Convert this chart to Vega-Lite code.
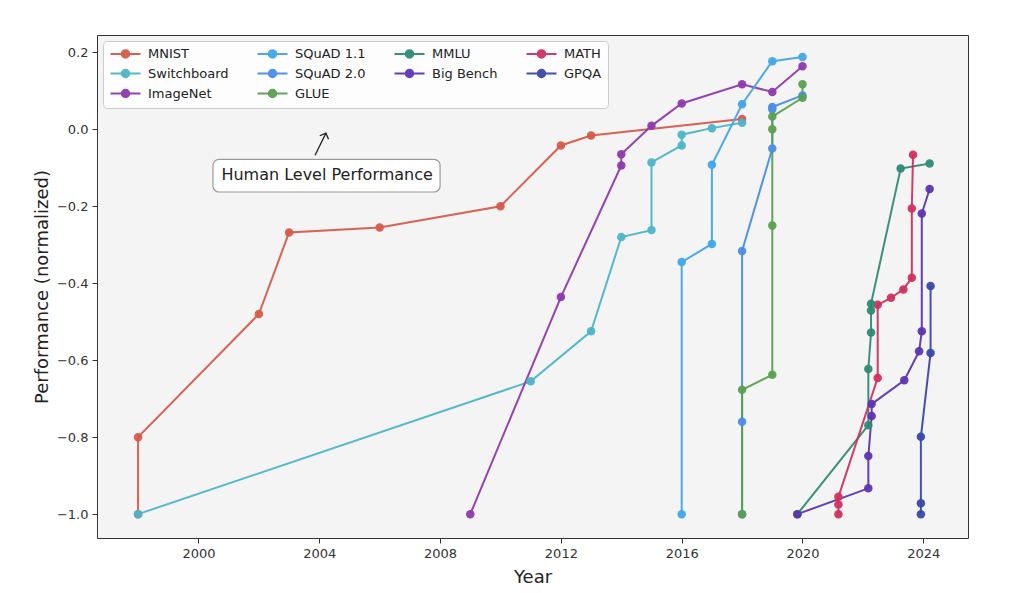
{
  "$schema": "https://vega.github.io/schema/vega-lite/v6.json",
  "autosize": {"type": "none"},
  "width": 871,
  "height": 503,
  "padding": {"left": 97, "top": 35, "right": 56, "bottom": 55},
  "background": "white",
  "config": {
    "font": "DejaVu Sans",
    "view": {"fill": "#f4f4f4", "stroke": "#333333", "strokeWidth": 1},
    "axis": {
      "grid": false, "domain": false, "tickColor": "#333333", "tickSize": 5, "tickWidth": 1,
      "labelColor": "#333333", "labelFontSize": 13, "labelFont": "DejaVu Sans", "labelPadding": 4,
      "titleFont": "DejaVu Sans", "titleFontSize": 18, "titleFontWeight": "normal", "titleColor": "#222222"
    }
  },
  "layer": [
    {
      "data": {"values": [
        {"series": "MNIST", "i": 0, "year": 1998, "value": -1.0},
        {"series": "MNIST", "i": 1, "year": 1998, "value": -0.8},
        {"series": "MNIST", "i": 2, "year": 2002, "value": -0.48},
        {"series": "MNIST", "i": 3, "year": 2003, "value": -0.268},
        {"series": "MNIST", "i": 4, "year": 2006, "value": -0.255},
        {"series": "MNIST", "i": 5, "year": 2010, "value": -0.2},
        {"series": "MNIST", "i": 6, "year": 2012, "value": -0.042},
        {"series": "MNIST", "i": 7, "year": 2013, "value": -0.016},
        {"series": "MNIST", "i": 8, "year": 2018, "value": 0.027},
        {"series": "Switchboard", "i": 0, "year": 1998, "value": -1.0},
        {"series": "Switchboard", "i": 1, "year": 2011, "value": -0.655},
        {"series": "Switchboard", "i": 2, "year": 2013, "value": -0.525},
        {"series": "Switchboard", "i": 3, "year": 2014, "value": -0.28},
        {"series": "Switchboard", "i": 4, "year": 2015, "value": -0.262},
        {"series": "Switchboard", "i": 5, "year": 2015, "value": -0.086},
        {"series": "Switchboard", "i": 6, "year": 2016, "value": -0.042},
        {"series": "Switchboard", "i": 7, "year": 2016, "value": -0.014},
        {"series": "Switchboard", "i": 8, "year": 2017, "value": 0.003},
        {"series": "Switchboard", "i": 9, "year": 2018, "value": 0.017},
        {"series": "ImageNet", "i": 0, "year": 2009, "value": -1.0},
        {"series": "ImageNet", "i": 1, "year": 2012, "value": -0.436},
        {"series": "ImageNet", "i": 2, "year": 2014, "value": -0.094},
        {"series": "ImageNet", "i": 3, "year": 2014, "value": -0.065},
        {"series": "ImageNet", "i": 4, "year": 2015, "value": 0.009},
        {"series": "ImageNet", "i": 5, "year": 2016, "value": 0.067},
        {"series": "ImageNet", "i": 6, "year": 2018, "value": 0.117},
        {"series": "ImageNet", "i": 7, "year": 2019, "value": 0.097},
        {"series": "ImageNet", "i": 8, "year": 2020, "value": 0.164},
        {"series": "SQuAD 1.1", "i": 0, "year": 2016, "value": -1.0},
        {"series": "SQuAD 1.1", "i": 1, "year": 2016, "value": -0.345},
        {"series": "SQuAD 1.1", "i": 2, "year": 2017, "value": -0.298},
        {"series": "SQuAD 1.1", "i": 3, "year": 2017, "value": -0.092},
        {"series": "SQuAD 1.1", "i": 4, "year": 2018, "value": 0.065},
        {"series": "SQuAD 1.1", "i": 5, "year": 2019, "value": 0.177},
        {"series": "SQuAD 1.1", "i": 6, "year": 2020, "value": 0.188},
        {"series": "SQuAD 2.0", "i": 0, "year": 2018, "value": -1.0},
        {"series": "SQuAD 2.0", "i": 1, "year": 2018, "value": -0.76},
        {"series": "SQuAD 2.0", "i": 2, "year": 2018, "value": -0.316},
        {"series": "SQuAD 2.0", "i": 3, "year": 2019, "value": -0.05},
        {"series": "SQuAD 2.0", "i": 4, "year": 2019, "value": 0.052},
        {"series": "SQuAD 2.0", "i": 5, "year": 2019, "value": 0.058},
        {"series": "SQuAD 2.0", "i": 6, "year": 2020, "value": 0.088},
        {"series": "GLUE", "i": 0, "year": 2018, "value": -1.0},
        {"series": "GLUE", "i": 1, "year": 2018, "value": -0.677},
        {"series": "GLUE", "i": 2, "year": 2019, "value": -0.638},
        {"series": "GLUE", "i": 3, "year": 2019, "value": -0.25},
        {"series": "GLUE", "i": 4, "year": 2019, "value": 0.0},
        {"series": "GLUE", "i": 5, "year": 2019, "value": 0.033},
        {"series": "GLUE", "i": 6, "year": 2020, "value": 0.082},
        {"series": "GLUE", "i": 7, "year": 2020, "value": 0.117},
        {"series": "MMLU", "i": 0, "year": 2019.83, "value": -1.0},
        {"series": "MMLU", "i": 1, "year": 2022.18, "value": -0.769},
        {"series": "MMLU", "i": 2, "year": 2022.18, "value": -0.623},
        {"series": "MMLU", "i": 3, "year": 2022.27, "value": -0.528},
        {"series": "MMLU", "i": 4, "year": 2022.27, "value": -0.471},
        {"series": "MMLU", "i": 5, "year": 2022.27, "value": -0.453},
        {"series": "MMLU", "i": 6, "year": 2023.25, "value": -0.102},
        {"series": "MMLU", "i": 7, "year": 2024.21, "value": -0.089},
        {"series": "Big Bench", "i": 0, "year": 2019.83, "value": -1.0},
        {"series": "Big Bench", "i": 1, "year": 2022.18, "value": -0.933},
        {"series": "Big Bench", "i": 2, "year": 2022.18, "value": -0.849},
        {"series": "Big Bench", "i": 3, "year": 2022.29, "value": -0.745},
        {"series": "Big Bench", "i": 4, "year": 2022.29, "value": -0.714},
        {"series": "Big Bench", "i": 5, "year": 2023.37, "value": -0.652},
        {"series": "Big Bench", "i": 6, "year": 2023.86, "value": -0.577},
        {"series": "Big Bench", "i": 7, "year": 2023.95, "value": -0.525},
        {"series": "Big Bench", "i": 8, "year": 2023.95, "value": -0.219},
        {"series": "Big Bench", "i": 9, "year": 2024.21, "value": -0.155},
        {"series": "MATH", "i": 0, "year": 2021.19, "value": -1.0},
        {"series": "MATH", "i": 1, "year": 2021.19, "value": -0.975},
        {"series": "MATH", "i": 2, "year": 2021.19, "value": -0.955},
        {"series": "MATH", "i": 3, "year": 2022.49, "value": -0.646},
        {"series": "MATH", "i": 4, "year": 2022.49, "value": -0.456},
        {"series": "MATH", "i": 5, "year": 2022.93, "value": -0.438},
        {"series": "MATH", "i": 6, "year": 2023.34, "value": -0.416},
        {"series": "MATH", "i": 7, "year": 2023.62, "value": -0.386},
        {"series": "MATH", "i": 8, "year": 2023.62, "value": -0.206},
        {"series": "MATH", "i": 9, "year": 2023.66, "value": -0.066},
        {"series": "GPQA", "i": 0, "year": 2023.92, "value": -1.0},
        {"series": "GPQA", "i": 1, "year": 2023.92, "value": -0.972},
        {"series": "GPQA", "i": 2, "year": 2023.92, "value": -0.799},
        {"series": "GPQA", "i": 3, "year": 2024.24, "value": -0.581},
        {"series": "GPQA", "i": 4, "year": 2024.24, "value": -0.407}
      ]},
      "encoding": {
        "x": {"field": "year", "type": "quantitative",
          "scale": {"domain": [1996.64, 2025.48], "nice": false, "zero": false},
          "axis": {"values": [2000, 2004, 2008, 2012, 2016, 2020, 2024], "format": "d", "title": "Year", "titlePadding": 8}},
        "y": {"field": "value", "type": "quantitative",
          "scale": {"domain": [-1.062, 0.245], "nice": false, "zero": false},
          "axis": {"values": [-1.0, -0.8, -0.6, -0.4, -0.2, 0.0, 0.2], "format": ".1f", "title": "Performance (normalized)", "titlePadding": 5}},
        "color": {"field": "series", "type": "nominal",
          "scale": {
            "domain": ["MNIST", "SQuAD 1.1", "MMLU", "MATH", "Switchboard", "SQuAD 2.0", "Big Bench", "GPQA", "ImageNet", "GLUE"],
            "range": ["#d65a4a", "#42a5e8", "#2e8a75", "#d1305f", "#4cb5c8", "#4a8ee6", "#5d35b0", "#3a48a8", "#8e3aad", "#5a9f4f"]
          },
          "legend": {
            "title": null, "orient": "top-left", "offset": 6, "columns": 4, "direction": "horizontal",
            "columnPadding": 24, "rowPadding": 3, "padding": 6,
            "fillColor": "rgba(255,255,255,0.8)", "strokeColor": "#cccccc", "cornerRadius": 4,
            "labelFontSize": 13, "labelFont": "DejaVu Sans", "labelColor": "#222222", "labelOffset": 26,
            "symbolType": "M-1,0L5,0M1.25,0A0.75,0.75 0 1,0 2.75,0A0.75,0.75 0 1,0 1.25,0Z",
            "symbolSize": 100, "symbolStrokeWidth": 2,
            "encode": {"symbols": {"update": {
              "fill": {"scale": "color", "field": "value"},
              "stroke": {"scale": "color", "field": "value"},
              "opacity": {"value": 1}, "fillOpacity": {"value": 1}, "strokeOpacity": {"value": 1}
            }}}
          }
        },
        "order": {"field": "i", "type": "quantitative"}
      },
      "layer": [
        {"mark": {"type": "line", "strokeWidth": 2, "opacity": 0.95}},
        {"mark": {"type": "point", "filled": true, "size": 72, "opacity": 0.95, "shape": "circle"}}
      ]
    },
    {
      "mark": {"type": "rule", "color": "black", "strokeWidth": 2.2},
      "encoding": {"y": {"datum": 0}}
    },
    {
      "data": {"values": [{"year": 2003.86, "value": -0.0675, "year2": 2004.22, "value2": -0.01}]},
      "mark": {"type": "rule", "color": "#222222", "strokeWidth": 1.3},
      "encoding": {
        "x": {"field": "year", "type": "quantitative"},
        "y": {"field": "value", "type": "quantitative"},
        "x2": {"field": "year2"},
        "y2": {"field": "value2"}
      }
    },
    {
      "data": {"values": [{"year": 2004.22, "value": -0.01}]},
      "mark": {"type": "point", "shape": "M-1,1L0,0L1,1", "filled": false, "stroke": "#222222", "strokeWidth": 1.3, "size": 90, "angle": 22, "opacity": 1},
      "encoding": {
        "x": {"field": "year", "type": "quantitative"},
        "y": {"field": "value", "type": "quantitative"}
      }
    },
    {
      "data": {"values": [{"year": 2000.48, "value": -0.078, "year2": 2008.0, "value2": -0.163}]},
      "mark": {"type": "rect", "fill": "white", "stroke": "#9a9a9a", "strokeWidth": 1.2, "cornerRadius": 6},
      "encoding": {
        "x": {"field": "year", "type": "quantitative"},
        "y": {"field": "value", "type": "quantitative"},
        "x2": {"field": "year2"},
        "y2": {"field": "value2"}
      }
    },
    {
      "data": {"values": [{"year": 2004.26, "value": -0.118, "label": "Human Level Performance"}]},
      "mark": {"type": "text", "fontSize": 16, "font": "DejaVu Sans", "color": "#222222", "align": "center", "baseline": "middle"},
      "encoding": {
        "x": {"field": "year", "type": "quantitative"},
        "y": {"field": "value", "type": "quantitative"},
        "text": {"field": "label"}
      }
    }
  ]
}
